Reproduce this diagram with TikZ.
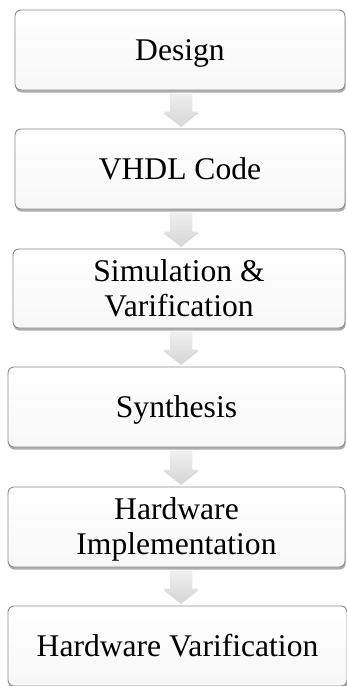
\documentclass[tikz,border=0pt]{standalone}
\usepackage{fontspec}
\setmainfont{Liberation Serif}
\usetikzlibrary{shadows,calc}
\tikzset{
  flowbox/.style={draw=black!45, line width=0.9pt, rounded corners=6pt,
    top color=white, bottom color=black!3, inner sep=0pt, align=center,
    font=\fontsize{31.6}{35}\selectfont,
    drop shadow={shadow xshift=0.6pt, shadow yshift=-2.6pt, fill=black, opacity=0.32}},
  oneline/.style={text height=20.8pt, text depth=0pt},
  twoline/.style={text height=55.8pt, text depth=0pt},
  blockarrow/.style={top color=black!6, bottom color=black!16, draw=none,
    drop shadow={shadow xshift=0pt, shadow yshift=-1.5pt, fill=black, opacity=0.15}}
}
\newcommand\flowarrow[2]{%
  \path ($(ax |- #1.south)+(0,3)$) coordinate (T)
        ($(ax |- #2.north)+(0,-3)$) coordinate (P);
  \path[blockarrow] ($(T)+(-11,0)$) -- ($(T)+(11,0)$) -- ($(P)+(11,-14)$) -- ($(P)+(17.5,-14)$)
     -- (P) -- ($(P)+(-17.5,-14)$) -- ($(P)+(-11,-14)$) -- cycle;}
\begin{document}
\begin{tikzpicture}[x=1pt,y=-1pt]
\useasboundingbox (0,0) rectangle (347,686);
\fill[white] (0,0) rectangle (347,686);
\coordinate (ax) at (181,0);
\node[flowbox, oneline, minimum width=330pt, minimum height=80pt] (b1) at (180,50) {Design};
\node[flowbox, oneline, minimum width=330pt, minimum height=80pt] (b2) at (180,169) {VHDL Code};
\node[flowbox, twoline, minimum width=332pt, minimum height=79pt] (b3) at (179,288.5) {Simulation \&\\Varification};
\node[flowbox, oneline, minimum width=337pt, minimum height=80pt] (b4) at (176.5,407) {Synthesis};
\node[flowbox, twoline, minimum width=337pt, minimum height=80pt] (b5) at (176.5,527) {Hardware\\Implementation};
\node[flowbox, oneline, minimum width=339pt, minimum height=80pt] (b6) at (177.5,646) {Hardware Varification};
\flowarrow{b1}{b2}
\flowarrow{b2}{b3}
\flowarrow{b3}{b4}
\flowarrow{b4}{b5}
\flowarrow{b5}{b6}
\end{tikzpicture}
\end{document}
